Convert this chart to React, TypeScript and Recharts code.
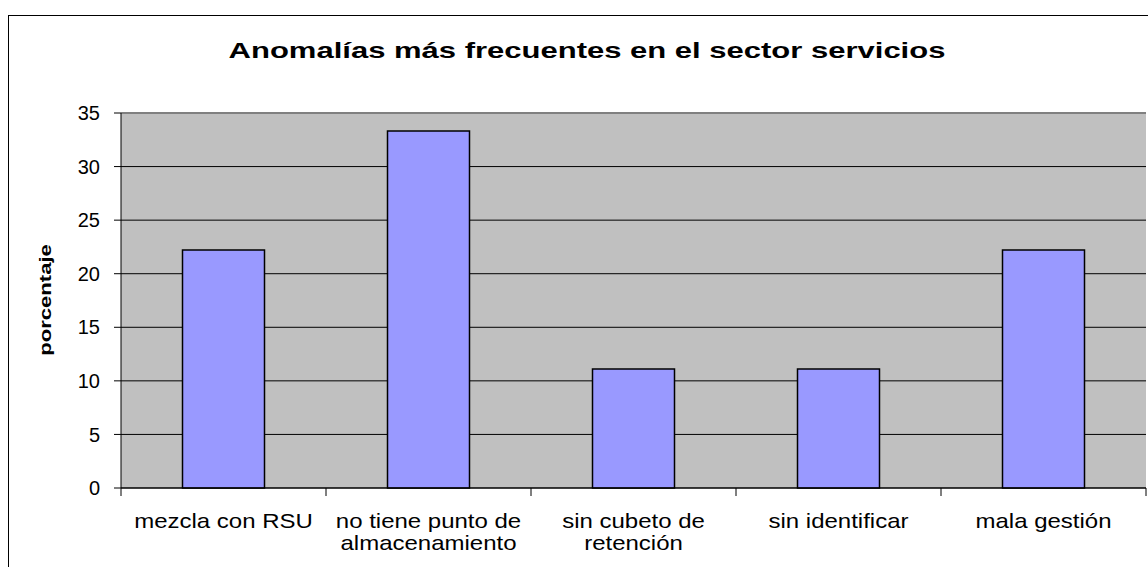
import { BarChart, Bar, XAxis, YAxis, CartesianGrid, ReferenceLine } from 'recharts';

const categories = [
  'mezcla con RSU',
  'no tiene punto de\nalmacenamiento',
  'sin cubeto de\nretención',
  'sin identificar',
  'mala gestión',
];
const porcentaje = [22.22, 33.33, 11.11, 11.11, 22.22];
const yTicks = [0, 5, 10, 15, 20, 25, 30, 35];

const data = categories.map((name, i) => ({ name, value: porcentaje[i] }));

const FONT = 'Arial, "Liberation Sans", sans-serif';
const BAND = 1025 / categories.length;

const CategoryTick = (props: any) => {
  const { x, y, payload, index } = props;
  const lines = String(payload.value).split('\n');
  return (
    <g>
      <line x1={x - BAND / 2} y1={y} x2={x - BAND / 2} y2={y + 8} stroke="#000" />
      {index === categories.length - 1 && (
        <line x1={x + BAND / 2} y1={y} x2={x + BAND / 2} y2={y + 8} stroke="#000" />
      )}
      {lines.map((l, i) => (
        <g key={i} transform={`translate(${x},${y + 40 + i * 22}) scale(1.2,1)`}>
          <text textAnchor="middle" fontFamily={FONT} fontSize={20} fill="#000">
            {l}
          </text>
        </g>
      ))}
    </g>
  );
};

export default function App() {
  return (
    <div style={{ position: 'absolute', left: 0, top: 0, width: 1148, height: 567, overflow: 'hidden', background: '#fff' }}>
      <div style={{ position: 'absolute', left: 8, top: 15, width: 1200, height: 600, border: '1px solid #000' }} />
      <BarChart
        width={1148}
        height={567}
        data={data}
        margin={{ top: 113, right: 2, left: 0, bottom: 0 }}
        barCategoryGap="30%"
        style={{ position: 'absolute', left: 0, top: 0 }}
      >
        <CartesianGrid vertical={false} stroke="#000" fill="#C0C0C0" fillOpacity={1} />
        <ReferenceLine y={35} stroke="#808080" strokeWidth={2} />
        <XAxis
          dataKey="name"
          interval={0}
          height={79}
          tickLine={false}
          tickSize={0}
          tickMargin={0}
          axisLine={{ stroke: '#000' }}
          tick={<CategoryTick />}
        />
        <YAxis
          domain={[0, 35]}
          ticks={yTicks}
          width={121}
          tickSize={7}
          tickMargin={14}
          axisLine={{ stroke: '#000' }}
          tickLine={{ stroke: '#000' }}
          tick={{ fill: '#000', fontSize: 20, fontFamily: FONT }}
        />
        <Bar dataKey="value" fill="#9999FF" stroke="#000" strokeWidth={1.5} isAnimationActive={false} />
      </BarChart>
      <svg width={1148} height={567} style={{ position: 'absolute', left: 0, top: 0, pointerEvents: 'none' }}>
        <g transform="translate(587,58) scale(1.41,1)">
          <text textAnchor="middle" fontFamily={FONT} fontSize={22} fontWeight="bold" fill="#000">
            Anomalías más frecuentes en el sector servicios
          </text>
        </g>
        <g transform="translate(51,300) rotate(-90) scale(1.3,1)">
          <text textAnchor="middle" fontFamily={FONT} fontSize={17} fontWeight="bold" fill="#000">
            porcentaje
          </text>
        </g>
      </svg>
    </div>
  );
}
